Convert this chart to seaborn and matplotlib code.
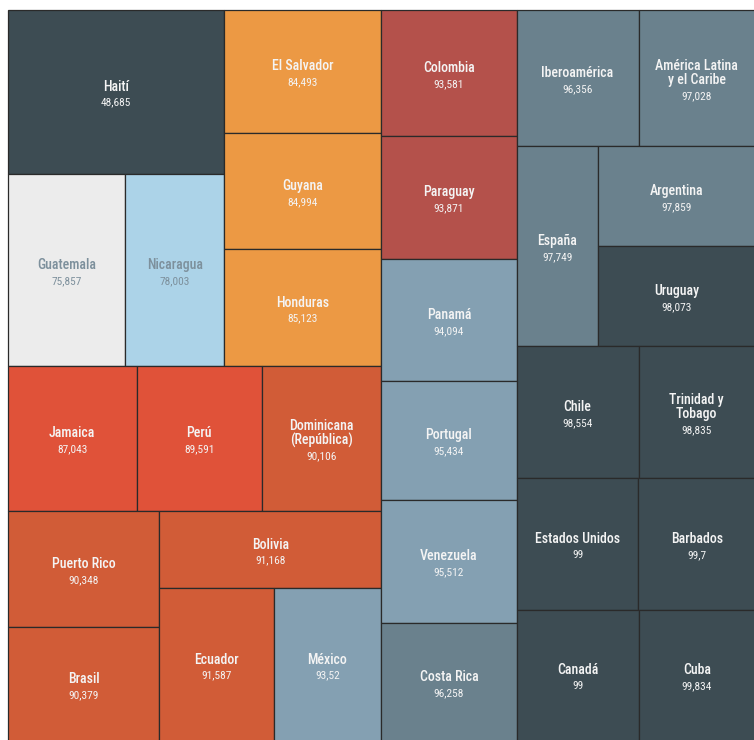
import seaborn as sns
import matplotlib.pyplot as plt
from matplotlib.patches import Rectangle

# tasa por país (orden ascendente) y peso del rectángulo
paises = ["Haití", "Guatemala", "Nicaragua", "El Salvador", "Guyana", "Honduras",
          "Jamaica", "Perú", "Dominicana\n(República)", "Puerto Rico", "Brasil",
          "Bolivia", "Ecuador", "México", "Colombia", "Paraguay", "Panamá",
          "Portugal", "Venezuela", "Costa Rica", "Iberoamérica",
          "América Latina\ny el Caribe", "España", "Argentina", "Uruguay", "Chile",
          "Trinidad y\nTobago", "Estados Unidos", "Barbados", "Canadá", "Cuba"]
valores = [48.685, 75.857, 78.003, 84.493, 84.994, 85.123, 87.043, 89.591, 90.106,
           90.348, 90.379, 91.168, 91.587, 93.52, 93.581, 93.871, 94.094, 95.434,
           95.512, 96.258, 96.356, 97.028, 97.749, 97.859, 98.073, 98.554, 98.835,
           99, 99.7, 99, 99.834]
pesos = [355.5, 226.5, 189.8, 194.6, 182.4, 183.5, 187.3, 181.3, 173.3, 175.9, 173.7,
         171.4, 174.4, 164.2, 171.4, 166.7, 164.9, 161.7, 166.3, 160.3, 166.3, 159.0,
         162.4, 157.5, 156.1, 160.8, 153.8, 161.1, 154.1, 159.6, 152.6]
grupo = ["A", "B", "C", "D", "D", "D", "E", "E", "F", "F", "F", "F", "F", "G", "H",
         "H", "G", "G", "G", "I", "I", "I", "I", "I", "A", "A", "A", "A", "A", "A", "A"]

colores = {"A": "#3d4c53", "B": "#ececec", "C": "#acd3e8", "D": "#ec9944",
           "E": "#e05239", "F": "#d15c37", "G": "#84a0b2", "H": "#b4514b",
           "I": "#6a818d"}

# estructura de cortes del treemap (x: lado a lado, y: apilado)
arbol = ("x", [
    ("y", [
        ("x", [("y", [0, ("x", [1, 2])]), ("y", [3, 4, 5])]),
        ("y", [("x", [6, 7, 8]),
               ("x", [("y", [9, 10]), ("y", [11, ("x", [12, 13])])])]),
    ]),
    ("x", [
        ("y", [14, 15, 16, 17, 18, 19]),
        ("y", [("x", [20, 21]), ("x", [22, ("y", [23, 24])]),
               ("x", [25, 26]), ("x", [27, 28]), ("x", [29, 30])]),
    ]),
])


def total(nodo):
    if isinstance(nodo, int):
        return pesos[nodo]
    return sum(total(h) for h in nodo[1])


def repartir(nodo, x0, y0, x1, y1, out):
    if isinstance(nodo, int):
        out[nodo] = (x0, y0, x1, y1)
        return
    eje, hijos = nodo
    s = total(nodo)
    pos = x0 if eje == "x" else y0
    for h in hijos:
        f = total(h) / s
        if eje == "x":
            paso = (x1 - x0) * f
            repartir(h, pos, y0, pos + paso, y1, out)
        else:
            paso = (y1 - y0) * f
            repartir(h, x0, pos, x1, pos + paso, out)
        pos += paso


sns.set_theme(style="white")
plt.rcParams["font.family"] = ["Roboto Condensed", "Roboto", "DejaVu Sans"]

fig = plt.figure(figsize=(7.54, 7.40), dpi=100)
ax = fig.add_axes([0, 0, 1, 1])
ax.set_xlim(0, 754)
ax.set_ylim(740, 0)
ax.axis("off")

rects = {}
repartir(arbol, 7.5, 9.5, 755, 741, rects)

for i, nombre in enumerate(paises):
    x0, y0, x1, y1 = rects[i]
    ax.add_patch(Rectangle((x0, y0), x1 - x0, y1 - y0, facecolor=colores[grupo[i]],
                           edgecolor="#2a2a2a", linewidth=0.9))
    tc = "#7d909c" if grupo[i] in ("B", "C") else "#f4f4f4"
    lineas = nombre.split("\n")
    alto = 14 * (len(lineas) - 1) + 16
    cx, cy = (x0 + x1) / 2, (y0 + y1) / 2 + 3
    ytop = cy - alto / 2
    for k, ln in enumerate(lineas):
        ax.text(cx, ytop + 14 * k, ln, ha="center", va="center", color=tc,
                fontsize=10, fontweight="medium")
    txt = f"{valores[i]:g}".replace(".", ",")
    ax.text(cx, ytop + 14 * (len(lineas) - 1) + 16, txt, ha="center", va="center",
            color=tc, fontsize=8.2)

fig.savefig("out.png", dpi=100, facecolor="white")
